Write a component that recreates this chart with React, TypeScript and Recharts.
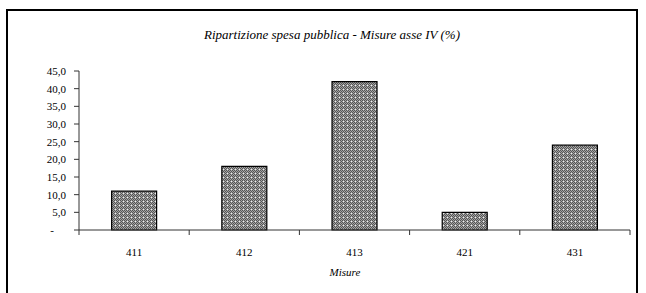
import { BarChart, Bar, XAxis, YAxis } from 'recharts';

const categories = ['411', '412', '413', '421', '431'];
const spesa = [11, 18, 42, 5, 24];
const yTicks = [0, 5, 10, 15, 20, 25, 30, 35, 40, 45];

const data = categories.map((c, i) => ({ misura: c, value: spesa[i] }));

const FONT = '"Liberation Serif", "DejaVu Serif", serif';
const BAND = (630 - 79) / categories.length;

function YTick(props: any) {
  const { x, y, payload } = props;
  const zero = payload.value === 0;
  return (
    <text
      x={zero ? x - 12 : x}
      y={y}
      dy="0.35em"
      textAnchor="end"
      fontFamily={FONT}
      fontSize={11}
      fill="#000"
    >
      {zero ? '-' : payload.value.toFixed(1).replace('.', ',')}
    </text>
  );
}

function XTick(props: any) {
  const { x, y, payload, index } = props;
  const last = index === categories.length - 1;
  return (
    <g>
      <line x1={x - BAND / 2} x2={x - BAND / 2} y1={y} y2={y + 5} stroke="#333" />
      {last && <line x1={x + BAND / 2} x2={x + BAND / 2} y1={y} y2={y + 5} stroke="#333" />}
      <text x={x} y={y + 22} dy="0.35em" textAnchor="middle" fontFamily={FONT} fontSize={11} fill="#000">
        {payload.value}
      </text>
    </g>
  );
}

export default function App() {
  return (
    <div style={{ position: 'absolute', left: 0, top: 0, width: 646, height: 293, background: '#fff', overflow: 'hidden' }}>
      <div
        style={{
          position: 'absolute',
          left: 6,
          top: 9,
          width: 628,
          height: 300,
          borderLeft: '2px solid #000',
          borderTop: '2px solid #000',
          borderRight: '2px solid #000',
        }}
      />
      <div
        style={{
          position: 'absolute',
          left: 0,
          top: 26,
          width: 664,
          textAlign: 'center',
          fontFamily: FONT,
          fontStyle: 'italic',
          fontSize: 13,
          lineHeight: '18px',
        }}
      >
        Ripartizione spesa pubblica - Misure asse IV (%)
      </div>
      <div
        style={{
          position: 'absolute',
          left: 0,
          top: 264,
          width: 690,
          textAlign: 'center',
          fontFamily: FONT,
          fontStyle: 'italic',
          fontSize: 11,
          lineHeight: '16px',
        }}
      >
        Misure
      </div>
      <div style={{ position: 'absolute', left: 0, top: 0 }}>
        <BarChart
          width={646}
          height={293}
          data={data}
          margin={{ top: 71, right: 16, bottom: 33, left: 19 }}
          barCategoryGap="29.6%"
        >
          <defs>
            <pattern id="checks" width="4" height="4" patternUnits="userSpaceOnUse">
              <rect width="4" height="4" fill="#a4a4a4" />
              <rect x="0" y="0" width="1" height="1" fill="#555" />
              <rect x="2" y="0" width="1" height="1" fill="#555" />
              <rect x="1" y="1" width="1" height="1" fill="#555" />
              <rect x="3" y="1" width="1" height="1" fill="#eee" />
              <rect x="0" y="2" width="1" height="1" fill="#555" />
              <rect x="2" y="2" width="1" height="1" fill="#555" />
              <rect x="1" y="3" width="1" height="1" fill="#555" />
              <rect x="3" y="3" width="1" height="1" fill="#555" />
            </pattern>
          </defs>
          <XAxis
            dataKey="misura"
            height={30}
            axisLine={{ stroke: '#333' }}
            tickLine={false}
            tickSize={0}
            tickMargin={0}
            tick={<XTick />}
            interval={0}
          />
          <YAxis
            width={60}
            domain={[0, 45]}
            ticks={yTicks}
            interval={0}
            axisLine={{ stroke: '#333' }}
            tickLine={{ stroke: '#333' }}
            tickSize={5}
            tickMargin={8}
            tick={<YTick />}
          />
          <Bar dataKey="value" fill="url(#checks)" stroke="#000" strokeWidth={1.2} isAnimationActive={false} />
        </BarChart>
      </div>
    </div>
  );
}
